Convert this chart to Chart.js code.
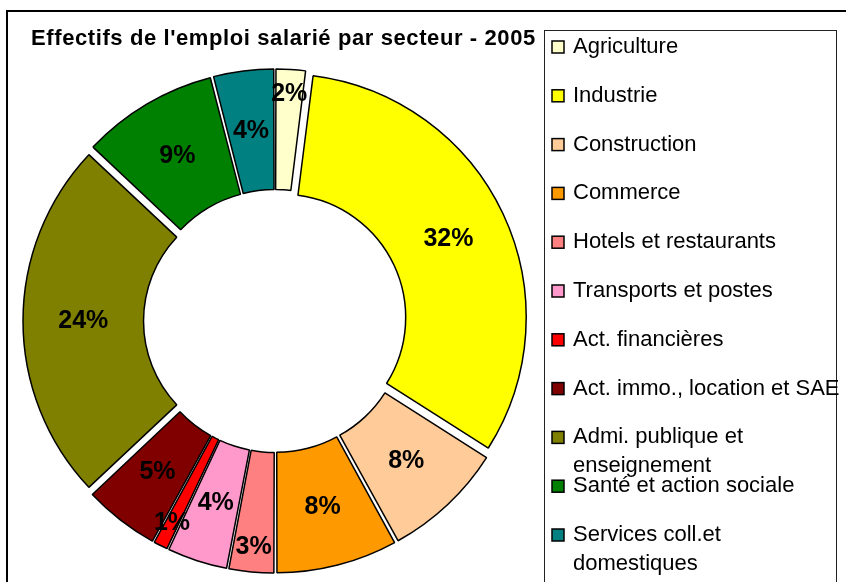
<!DOCTYPE html>
<html lang="fr">
<head>
<meta charset="utf-8">
<title>Effectifs de l'emploi salarié par secteur - 2005</title>
<script src="https://cdn.jsdelivr.net/npm/chart.js@4.4.1/dist/chart.umd.min.js"></script>
<style>
  html, body { margin: 0; padding: 0; background: #fff; }
  #wrap { width: 846px; height: 582px; }
</style>
</head>
<body>
<div id="wrap"><canvas id="pieChart" width="846" height="582"></canvas></div>
<script>
// Chart data (percent of salaried employment, 2005)
const chartTitle = "Effectifs de l'emploi salarié par secteur - 2005";
const sectors = [
  "Agriculture",
  "Industrie",
  "Construction",
  "Commerce",
  "Hotels et restaurants",
  "Transports et postes",
  "Act. financières",
  "Act. immo., location et SAE",
  ["Admi. publique et", "enseignement"],
  "Santé et action sociale",
  ["Services coll.et", "domestiques"],
];
const shares = [2, 32, 8, 8, 3, 4, 1, 5, 24, 9, 4];
const sectorColors = [
  "#FFFFCC",
  "#FFFF00",
  "#FFCC99",
  "#FF9900",
  "#FF8080",
  "#FF99CC",
  "#FF0000",
  "#800000",
  "#808000",
  "#008000",
  "#008080",
];

const FONT = '"Liberation Sans", Arial, sans-serif';
const explode = 9; // px each slice is pulled out

const total = shares.reduce((a, b) => a + b, 0);

// chart.js offsets small and big arcs differently; even it out
const sliceOffset = (ctx) => {
  const circ = (2 * Math.PI * shares[ctx.dataIndex]) / total;
  return (4 * explode) / (2 - Math.sin(Math.min(Math.PI, circ)));
};

// frame, title and legend box drawn straight on the canvas
const framePlugin = {
  id: "frame",
  beforeDraw(chart) {
    const { ctx, width, height } = chart;
    ctx.save();
    ctx.fillStyle = "#fff";
    ctx.fillRect(0, 0, width, height);
    ctx.strokeStyle = "#000";
    ctx.lineWidth = 2;
    ctx.strokeRect(7, 11, width + 20, height + 20);

    ctx.fillStyle = "#000";
    ctx.font = `bold 22px ${FONT}`;
    ctx.letterSpacing = "0.6px";
    ctx.textBaseline = "alphabetic";
    ctx.fillText(chartTitle, 31, 45);
    ctx.restore();
  },
  afterDraw(chart) {
    const { ctx, height } = chart;
    ctx.save();
    ctx.strokeStyle = "#222";
    ctx.lineWidth = 1;
    ctx.strokeRect(544.5, 30.5, 292, height);

    ctx.font = `22px ${FONT}`;
    ctx.textBaseline = "alphabetic";
    sectors.forEach((label, i) => {
      const base = 53 + i * 48.8;
      ctx.fillStyle = sectorColors[i];
      ctx.fillRect(552, base - 12, 12, 12);
      ctx.strokeStyle = "#000";
      ctx.lineWidth = 1.5;
      ctx.strokeRect(552, base - 12, 12, 12);
      ctx.fillStyle = "#000";
      const lines = Array.isArray(label) ? label : [label];
      lines.forEach((line, j) => ctx.fillText(line, 573, base + j * 28.5));
    });
    ctx.restore();
  },
};

// percentage labels in the middle of each ring piece,
// pushed towards the outer edge when the piece is too narrow
const percentLabels = {
  id: "percentLabels",
  afterDatasetsDraw(chart) {
    const { ctx } = chart;
    const meta = chart.getDatasetMeta(0);
    ctx.save();
    ctx.font = `bold 25px ${FONT}`;
    ctx.fillStyle = "#000";
    ctx.textAlign = "center";
    ctx.textBaseline = "middle";
    meta.data.forEach((arc, i) => {
      const { x, y, startAngle, endAngle, innerRadius, outerRadius } = arc;
      const mid = (startAngle + endAngle) / 2;
      const pct = Math.round((shares[i] / total) * 100) + "%";
      let r = (innerRadius + outerRadius) / 2 + explode;
      if ((endAngle - startAngle) * r < ctx.measureText(pct).width + 6) {
        r = outerRadius + explode - 25;
      }
      ctx.fillText(pct, x + Math.cos(mid) * r, y + Math.sin(mid) * r);
    });
    ctx.restore();
  },
};

const ctx = document.getElementById("pieChart").getContext("2d");
window.pieChart = new Chart(ctx, {
  type: "doughnut",
  data: {
    labels: sectors,
    datasets: [
      {
        data: shares,
        backgroundColor: sectorColors,
        borderColor: "#000",
        borderWidth: 1.5,
        offset: sliceOffset,
        hoverOffset: 0,
        clip: false,
      },
    ],
  },
  options: {
    responsive: false,
    animation: false,
    events: [],
    radius: 243,
    cutout: "50.4%",
    layout: { padding: { left: 25, right: 321, top: 71, bottom: 11 } },
    plugins: {
      legend: { display: false },
      title: { display: false },
      tooltip: { enabled: false },
    },
  },
  plugins: [framePlugin, percentLabels],
});
</script>
</body>
</html>
